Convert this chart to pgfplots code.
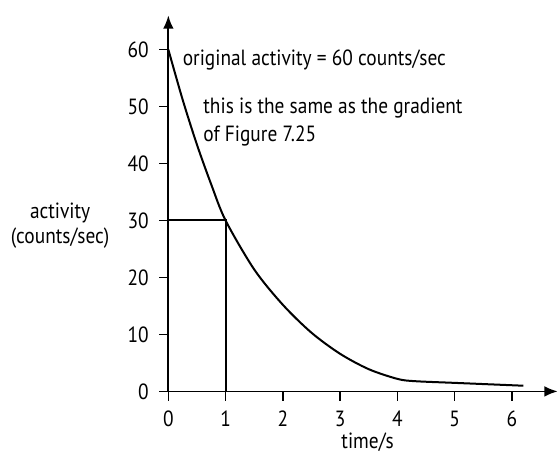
\documentclass[border=0pt]{standalone}
\usepackage{pgfplots}
\pgfplotsset{compat=1.18}
\usepackage{fontspec}
\setmainfont{PT Sans}[FakeStretch=0.88]
\usetikzlibrary{arrows.meta}

\begin{document}
\begin{tikzpicture}
\fontsize{16.5pt}{19pt}\selectfont
\begin{axis}[
    scale only axis,
    width=292pt, height=282pt,
    axis lines=left,
    xmin=0, xmax=6.8,
    ymin=0, ymax=66,
    xtick={0,1,...,6},
    ytick={0,10,...,60},
    tick align=outside,
    major tick length=7pt,
    tick style={black, line width=1.2pt},
    xticklabel style={yshift=-2pt},
    yticklabel style={xshift=-2pt},
    axis line style={line width=1.3pt, -{Latex[length=10pt,width=8pt]}},
    /pgf/number format/assume math mode=true,
    ticklabel style={font=\fontsize{16.5pt}{19pt}\selectfont},
    clip=false,
]
% curve
\addplot[black, line width=1.5pt, smooth, tension=0.5] coordinates {
    (0,60) (0.25,51.2) (0.5,43.3) (0.75,36.3) (1,30) (1.5,21.4) (2,15.2)
    (2.5,10.3) (3,6.6) (3.5,3.9) (4,2.2) (4.3,1.8) (5,1.5) (5.6,1.25) (6.2,1.0)
};
% half-life construction
\addplot[black, line width=1.5pt] coordinates {(0,30) (1,30) (1,0)};

% tick marks as combs
\addplot[ycomb, black, line width=1.2pt, forget plot] coordinates {
    (0,-1.6) (1,-1.6) (2,-1.6) (3,-1.6) (4,-1.6) (5,-1.6) (6,-1.6)
};
\addplot[xcomb, black, line width=1.2pt, forget plot] coordinates {
    (-0.16,0) (-0.16,10) (-0.16,20) (-0.16,30) (-0.16,40) (-0.16,50) (-0.16,60)
};

\node[anchor=west] at (axis cs:0.12,58.2) {original activity = 60 counts/sec};
\node[anchor=west] at (axis cs:0.48,49.7) {this is the same as the gradient};
\node[anchor=west] at (axis cs:0.48,44.8) {of Figure 7.25};
\node[align=center] at (axis cs:-1.89,29.1) {activity\\(counts/sec)};
\node at (axis cs:3.48,-8.96) {time/s};
% frame the picture like the reference
\path (axis cs:-2.94,-10.6) rectangle (axis cs:6.84,68.7);
\end{axis}
\end{tikzpicture}
\end{document}
